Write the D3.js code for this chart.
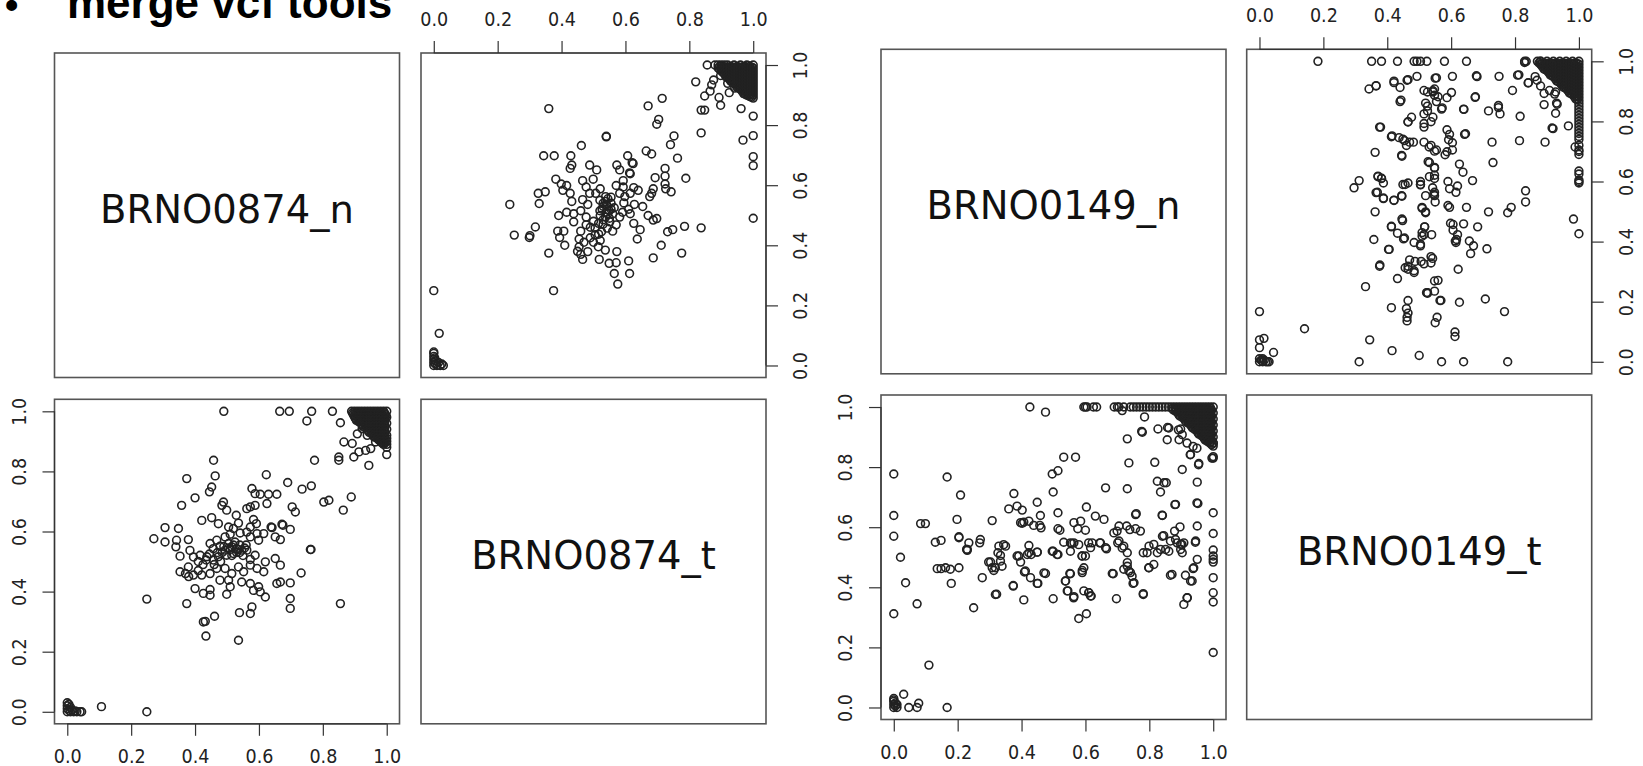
<!DOCTYPE html>
<html>
<head>
<meta charset="utf-8">
<script src="https://cdn.jsdelivr.net/npm/d3@7"></script>
<style>
  body { margin: 0; background: #fff; }
  svg { display: block; }
</style>
</head>
<body>
<div id="chart"></div>
<script>
// values, each point is [n, t]
const titleText = "merge vcf tools";
const tickValues = [0, 0.2, 0.4, 0.6, 0.8, 1.0];
const varSuffix = ["_n", "_t"];

const pts0874 = [
  [0,0],[0,0.01],[0,0.02],[0,0.03],[0.005,0.005],[0.01,0],[0.01,0.015],[0.015,0.005],[0.02,0],[0.025,0.003],
  [0.03,0],[0.04,0],[0.045,0],[0.005,0.025],[0.107,0.017],[0.249,0],
  [0.49,1],[0.665,1],[0.695,1],[0.765,1],[0.83,1],[0.75,0.968],[0.855,0.962],[0.866,0.898],[0.892,0.893],
  [0.913,0.865],[0.934,0.87],[0.95,0.876],[0.897,0.848],[0.85,0.848],[0.85,0.837],[0.944,0.82],[1,0.856],
  [1,0.88],[0.774,0.837],[0.965,0.898],[0.908,0.925],[0.923,0.942],[0.939,0.92],[0.96,0.915],[0.458,0.837],
  [0.374,0.776],[0.463,0.785],[0.452,0.748],[0.445,0.732],[0.40,0.712],[0.358,0.687],[0.489,0.698],[0.484,0.687],
  [0.499,0.671],[0.578,0.743],[0.623,0.789],[0.69,0.763],[0.735,0.741],[0.764,0.752],[0.604,0.724],[0.63,0.724],
  [0.656,0.724],[0.588,0.726],[0.625,0.693],[0.562,0.676],[0.573,0.682],[0.588,0.687],[0.529,0.654],[0.704,0.682],
  [0.714,0.665],[0.803,0.698],[0.819,0.704],[0.889,0.715],[0.864,0.671],
  [0.452,0.646],[0.421,0.637],[0.473,0.626],[0.505,0.615],[0.52,0.61],[0.536,0.628],[0.583,0.64],[0.592,0.626],
  [0.573,0.615],[0.641,0.613],[0.672,0.624],[0.698,0.607],[0.651,0.582],[0.667,0.573],[0.306,0.613],[0.348,0.61],
  [0.271,0.576],[0.306,0.565],[0.342,0.571],[0.379,0.573],[0.34,0.549],[0.353,0.518],[0.384,0.537],[0.395,0.515],
  [0.416,0.521],[0.437,0.516],[0.447,0.56],[0.468,0.571],[0.494,0.582],[0.51,0.591],[0.541,0.595],[0.562,0.598],
  [0.573,0.582],[0.594,0.593],[0.599,0.571],[0.615,0.593],[0.638,0.615],[0.675,0.621],
  [0.457,0.543],[0.478,0.551],[0.494,0.538],[0.515,0.549],[0.531,0.543],[0.546,0.538],[0.52,0.527],[0.499,0.521],
  [0.473,0.516],[0.457,0.505],[0.505,0.56],[0.525,0.565],[0.54,0.555],[0.485,0.53],[0.51,0.54],[0.53,0.53],
  [0.55,0.52],[0.46,0.49],[0.48,0.5],[0.435,0.505],[0.425,0.49],[0.41,0.5],[0.535,0.54],[0.555,0.545],
  [0.562,0.538],[0.588,0.521],[0.573,0.507],[0.62,0.499],[0.651,0.51],[0.667,0.488],[0.761,0.54],[0.763,0.54],
  [0.353,0.466],[0.379,0.482],[0.395,0.455],[0.421,0.455],[0.447,0.46],[0.468,0.477],[0.494,0.477],[0.515,0.46],
  [0.536,0.482],[0.552,0.466],[0.573,0.488],[0.594,0.477],[0.615,0.466],[0.37,0.46],[0.38,0.45],[0.41,0.47],
  [0.4,0.41],[0.426,0.394],[0.447,0.407],[0.447,0.388],[0.499,0.391],[0.51,0.416],[0.478,0.438],[0.505,0.438],
  [0.546,0.432],[0.573,0.427],[0.583,0.404],[0.599,0.416],[0.604,0.399],[0.62,0.382],[0.656,0.427],[0.667,0.432],
  [0.698,0.429],[0.698,0.377],[0.698,0.344],[0.732,0.462],[0.374,0.36],[0.461,0.318],[0.426,0.299],[0.432,0.301],
  [0.434,0.252],[0.539,0.33],[0.573,0.327],[0.578,0.349],[0.536,0.238],[0.855,0.36],[0.249,0.375],
  [0.505,0.545],[0.52,0.555],[0.49,0.55],[0.54,0.53],[0.515,0.52],[0.47,0.53],[0.445,0.525],[0.56,0.555]
];
// dense black corner: [t, list of n]
const corner0874 = [
  [1.00, [0.89,0.90,0.91,0.92,0.93,0.94,0.95,0.96,0.97,0.98,0.99,1.0]],
  [0.995, [0.893,0.903,0.913,0.923,0.933,0.943,0.953,0.963,0.973,0.983,0.993]],
  [0.99, [0.895,0.905,0.915,0.925,0.935,0.945,0.955,0.965,0.975,0.985,0.995]],
  [0.985, [0.898,0.908,0.918,0.928,0.938,0.948,0.958,0.968,0.978,0.988,0.998]],
  [0.98, [0.90,0.91,0.92,0.93,0.94,0.95,0.96,0.97,0.98,0.99,1.0]],
  [0.975, [0.903,0.913,0.923,0.933,0.943,0.953,0.963,0.973,0.983,0.993]],
  [0.97, [0.905,0.915,0.925,0.935,0.945,0.955,0.965,0.975,0.985,0.995]],
  [0.965, [0.913,0.923,0.933,0.943,0.953,0.963,0.973,0.983,0.993]],
  [0.96, [0.92,0.93,0.94,0.95,0.96,0.97,0.98,0.99,1.0]],
  [0.955, [0.923,0.933,0.943,0.953,0.963,0.973,0.983,0.993]],
  [0.95, [0.925,0.935,0.945,0.955,0.965,0.975,0.985,0.995]],
  [0.945, [0.933,0.943,0.953,0.963,0.973,0.983,0.993]],
  [0.94, [0.94,0.95,0.96,0.97,0.98,0.99,1.0]],
  [0.935, [0.943,0.953,0.963,0.973,0.983,0.993]],
  [0.93, [0.945,0.955,0.965,0.975,0.985,0.995]],
  [0.925, [0.953,0.963,0.973,0.983,0.993]],
  [0.92, [0.96,0.97,0.98,0.99,1.0]],
  [0.915, [0.963,0.973,0.983,0.993]],
  [0.91, [0.97,0.98,0.99,1.0]],
  [0.905, [0.975,0.985,0.995]],
  [0.90, [0.98,0.99,1.0]],
  [0.895, [0.985,0.995]],
  [0.89, [0.99,1.0]]
];

const pts0149 = [
  [0,0],[0,0.01],[0,0.02],[0,0.03],[0.005,0.005],[0.01,0],[0.005,0.015],[0,0.025],[0.01,0.01],[0.031,0.044],
  [0.047,0],[0.073,0],[0.078,0.014],[0.167,0],[0.11,0.141],
  [0,0.777],[0,0.639],[0,0.57],[0,0.312],
  [0.021,0.50],[0.037,0.415],[0.073,0.345],[0.084,0.612],[0.099,0.612],[0.13,0.55],[0.148,0.556],[0.136,0.462],
  [0.148,0.462],[0.162,0.465],[0.177,0.46],[0.167,0.767],[0.18,0.413],[0.198,0.626],[0.204,0.565],[0.204,0.465],
  [0.209,0.707],[0.228,0.526],[0.23,0.523],[0.235,0.548],[0.25,0.332],[0.269,0.548],[0.271,0.559],[0.277,0.432],
  [0.297,0.484],[0.308,0.465],[0.313,0.456],[0.308,0.622],[0.322,0.377],[0.326,0.515],[0.334,0.506],[0.339,0.47],
  [0.35,0.537],[0.334,0.487],[0.344,0.542],[0.36,0.661],[0.374,0.404],[0.376,0.712],[0.386,0.67],[0.402,0.657],
  [0.391,0.504],[0.397,0.484],[0.397,0.615],[0.402,0.613],[0.407,0.617],[0.423,0.62],[0.409,0.451],[0.407,0.358],
  [0.423,0.539],[0.423,0.515],[0.43,0.509],[0.428,0.432],[0.438,0.606],[0.457,0.606],[0.461,0.598],[0.449,0.683],
  [0.449,0.517],[0.451,0.413],[0.459,0.639],[0.475,0.446],[0.499,0.362],[0.499,0.717],[0.496,0.777],[0.514,0.788],
  [0.499,0.52],[0.514,0.509],[0.514,0.648],[0.514,0.595],[0.52,0.59],[0.532,0.833],[0.569,0.833],[0.532,0.55],
  [0.553,0.548],[0.564,0.548],[0.538,0.421],[0.545,0.388],[0.553,0.52],[0.553,0.445],[0.564,0.369],[0.564,0.615],
  [0.576,0.595],[0.585,0.62],[0.579,0.296],[0.579,0.542],[0.59,0.504],[0.6,0.504],[0.59,0.449],[0.595,0.465],
  [0.595,0.388],[0.611,0.382],[0.616,0.371],[0.603,0.312],[0.6,0.59],[0.603,0.667],[0.616,0.532],[0.621,0.548],
  [0.631,0.637],[0.645,0.548],[0.663,0.532],[0.663,0.731],[0.658,0.626],[0.689,0.581],[0.699,0.587],[0.705,0.604],
  [0.687,0.445],[0.697,0.362],[0.705,0.554],[0.72,0.537],[0.731,0.515],[0.72,0.46],[0.731,0.47],[0.741,0.449],
  [0.749,0.413],[0.746,0.437],[0.731,0.894],[0.736,0.814],[0.731,0.728],[0.729,0.604],[0.739,0.592],[0.757,0.642],
  [0.757,0.595],[0.772,0.587],[0.778,0.916],[0.785,0.967],[0.781,0.379],[0.781,0.515],[0.799,0.465],[0.814,0.476],
  [0.799,0.537],[0.814,0.543],[0.825,0.515],[0.835,0.526],[0.817,0.816],[0.827,0.927],[0.825,0.753],[0.846,0.748],
  [0.835,0.717],[0.841,0.639],[0.841,0.57],[0.851,0.526],[0.861,0.52],[0.856,0.891],[0.861,0.93],[0.866,0.44],
  [0.879,0.587],[0.882,0.559],[0.898,0.543],[0.908,0.548],[0.882,0.676],[0.893,0.891],[0.898,0.927],[0.903,0.908],
  [0.903,0.792],[0.896,0.601],[0.898,0.526],[0.903,0.515],[0.908,0.343],[0.919,0.365],[0.913,0.44],[0.929,0.842],
  [0.937,0.869],[0.934,0.421],[0.937,0.462],[0.945,0.554],[0.95,0.604],[0.95,0.75],[0.952,0.679],[0.955,0.812],
  [0.95,0.493],[0.776,0.919],[0.857,0.932],[0.891,0.924],[0.918,0.88],[0.928,0.841],[0.949,0.863],[0.954,0.808],
  [0.986,0.902],[0.996,0.83],[0.853,0.748],[0.759,0.645],[0.84,0.64],[0.88,0.675],[0.949,0.681],
  [0.204,0.568],[0.23,0.526],[0.329,0.537],[0.303,0.484],[0.318,0.465],[0.386,0.504],[0.418,0.509],[0.449,0.517],
  [0.412,0.454],[0.449,0.413],[0.47,0.448],[0.374,0.406],[0.318,0.376],[0.496,0.52],[0.511,0.509],[0.558,0.546],
  [0.589,0.504],[0.61,0.548],[0.647,0.548],[0.666,0.528],[0.551,0.446],[0.537,0.421],[0.543,0.388],[0.563,0.365],
  [0.61,0.382],[0.618,0.371],[0.59,0.456],[0.684,0.446],[0.731,0.482],[0.736,0.454],[0.752,0.415],[0.781,0.376],
  [0.715,0.531],[0.701,0.548],[0.793,0.515],[0.798,0.465],[0.845,0.572],[0.866,0.554],[0.871,0.443],[0.887,0.548],
  [0.902,0.543],[0.918,0.365],[0.929,0.421],[0.939,0.465],[0.944,0.55],
  [1,0.183],[1,0.351],[1,0.382],[1,0.432],[1,0.484],[1,0.493],[1,0.504],[1,0.524],[1,0.579],[1,0.648],
  [1,0.83],[1,0.835],[1,0.88],
  [0.426,1],[0.475,0.983],[0.595,1],[0.6,1],[0.605,1],[0.625,1],[0.635,1],[0.69,1],[0.70,1],[0.705,1],
  [0.715,0.988],[0.72,1],[0.74,1],[0.75,1],[0.76,1],[0.77,1],[0.78,1],[0.79,1],[0.80,1],[0.81,1],
  [0.82,1],[0.83,1],[0.84,1],[0.85,1],[0.86,1]
];
const corner0149 = [
  [1.00, [0.87,0.88,0.89,0.90,0.91,0.92,0.93,0.94,0.95,0.96,0.97,0.98,0.99,1.0]],
  [0.995, [0.872,0.882,0.892,0.902,0.912,0.922,0.932,0.942,0.952,0.962,0.972,0.982,0.992]],
  [0.99, [0.875,0.885,0.895,0.905,0.915,0.925,0.935,0.945,0.955,0.965,0.975,0.985,0.995]],
  [0.985, [0.883,0.893,0.903,0.913,0.923,0.933,0.943,0.953,0.963,0.973,0.983,0.993]],
  [0.98, [0.89,0.90,0.91,0.92,0.93,0.94,0.95,0.96,0.97,0.98,0.99,1.0]],
  [0.975, [0.892,0.902,0.912,0.922,0.932,0.942,0.952,0.962,0.972,0.982,0.992]],
  [0.97, [0.895,0.905,0.915,0.925,0.935,0.945,0.955,0.965,0.975,0.985,0.995]],
  [0.965, [0.903,0.913,0.923,0.933,0.943,0.953,0.963,0.973,0.983,0.993]],
  [0.96, [0.91,0.92,0.93,0.94,0.95,0.96,0.97,0.98,0.99,1.0]],
  [0.955, [0.912,0.922,0.932,0.942,0.952,0.962,0.972,0.982,0.992]],
  [0.95, [0.915,0.925,0.935,0.945,0.955,0.965,0.975,0.985,0.995]],
  [0.945, [0.923,0.933,0.943,0.953,0.963,0.973,0.983,0.993]],
  [0.94, [0.93,0.94,0.95,0.96,0.97,0.98,0.99,1.0]],
  [0.935, [0.932,0.942,0.952,0.962,0.972,0.982,0.992]],
  [0.93, [0.935,0.945,0.955,0.965,0.975,0.985,0.995]],
  [0.925, [0.943,0.953,0.963,0.973,0.983,0.993]],
  [0.92, [0.95,0.96,0.97,0.98,0.99,1.0]],
  [0.915, [0.952,0.962,0.972,0.982,0.992]],
  [0.91, [0.955,0.965,0.975,0.985,0.995]],
  [0.905, [0.963,0.973,0.983,0.993]],
  [0.90, [0.97,0.98,0.99,1.0]],
  [0.895, [0.972,0.982,0.992]],
  [0.89, [0.975,0.985,0.995]],
  [0.885, [0.983,0.993]],
  [0.88, [0.99,1.0]],
  [0.875, [0.995]],
  [0.87, [1.0]]
];

const width = 1643, height = 766;
const svg = d3.select("#chart").append("svg")
  .attr("width", width).attr("height", height)
  .style("background", "#fff");

// title bullet line, cut off at the top like the slide
svg.append("text").text("\u2022")
  .attr("x", 5).attr("y", 18)
  .attr("font-family", "Liberation Sans, Arial, sans-serif")
  .attr("font-size", 38).attr("font-weight", "bold").attr("fill", "#000");
svg.append("text").text(titleText)
  .attr("x", 67).attr("y", 18)
  .attr("font-family", "Liberation Sans, Arial, sans-serif")
  .attr("font-size", 44).attr("font-weight", "bold").attr("fill", "#000");

function withCorner(pts, corner){
  let out = pts.slice();
  corner.forEach(function(row){
    row[1].forEach(function(n){ out.push([n, row[0]]); });
  });
  return out;
}

const tickFont = "DejaVu Sans Condensed, DejaVu Sans, sans-serif";

function pairs(name, data, lay){
  let g = svg.append("g");
  let xs = lay.x0.map(function(x){ return d3.scaleLinear().domain([-0.04, 1.04]).range([x, x + lay.w]); });
  let ys = lay.y0.map(function(y){ return d3.scaleLinear().domain([-0.04, 1.04]).range([y + lay.h, y]); });

  for(let r = 0; r < 2; r++){
    for(let c = 0; c < 2; c++){
      g.append("rect")
        .attr("x", lay.x0[c]).attr("y", lay.y0[r])
        .attr("width", lay.w).attr("height", lay.h)
        .attr("fill", "none").attr("stroke", "#555").attr("stroke-width", 1.6);
    }
  }

  // names on the diagonal
  [0, 1].forEach(function(i){
    g.append("text").text(name + varSuffix[i])
      .attr("x", lay.x0[i] + lay.w / 2)
      .attr("y", lay.y0[i] + lay.h / 2 + 7.5)
      .attr("text-anchor", "middle")
      .attr("font-family", "DejaVu Sans, sans-serif")
      .attr("font-size", 38.5).attr("fill", "#111");
  });

  // upper panel: x = t, y = n ; lower panel: x = n, y = t
  g.append("g").selectAll("circle").data(data).join("circle")
    .attr("cx", function(d){ return xs[1](d[1]); })
    .attr("cy", function(d){ return ys[0](d[0]); })
    .attr("r", 3.9).attr("fill", "none").attr("stroke", "#222").attr("stroke-width", 1.6);
  g.append("g").selectAll("circle").data(data).join("circle")
    .attr("cx", function(d){ return xs[0](d[0]); })
    .attr("cy", function(d){ return ys[1](d[1]); })
    .attr("r", 3.9).attr("fill", "none").attr("stroke", "#222").attr("stroke-width", 1.6);

  let fmt = d3.format(".1f");
  let axes = [
    {ax: d3.axisTop(xs[1]), tr: "translate(0," + lay.y0[0] + ")", side: "top", sc: xs[1]},
    {ax: d3.axisRight(ys[0]), tr: "translate(" + (lay.x0[1] + lay.w) + ",0)", side: "right", sc: ys[0]},
    {ax: d3.axisLeft(ys[1]), tr: "translate(" + lay.x0[0] + ",0)", side: "left", sc: ys[1]},
    {ax: d3.axisBottom(xs[0]), tr: "translate(0," + (lay.y0[1] + lay.h) + ")", side: "bottom", sc: xs[0]}
  ];
  axes.forEach(function(a){
    let ag = g.append("g").attr("transform", a.tr)
      .call(a.ax.tickValues(tickValues).tickSize(12).tickFormat(fmt));
    ag.select(".domain").remove();
    let vertical = (a.side == "left" || a.side == "right");
    let p0 = a.sc(0), p1 = a.sc(1);
    ag.append("line")
      .attr("x1", vertical ? 0 : p0).attr("x2", vertical ? 0 : p1)
      .attr("y1", vertical ? p0 : 0).attr("y2", vertical ? p1 : 0)
      .attr("stroke", "#333").attr("stroke-width", 1.2);
    ag.selectAll(".tick line").attr("stroke", "#333").attr("stroke-width", 1.2);
    let txt = ag.selectAll(".tick text")
      .attr("fill", "#222").attr("font-family", tickFont).attr("font-size", 19.5)
      .attr("text-anchor", "middle").attr("dy", null);
    if(a.side == "top") txt.attr("x", 0).attr("y", -27);
    if(a.side == "bottom") txt.attr("x", 0).attr("y", 39);
    if(a.side == "left") txt.attr("transform", "rotate(-90)").attr("x", 0).attr("y", -29);
    if(a.side == "right") txt.attr("transform", "rotate(-90)").attr("x", 0).attr("y", 41);
    ag.attr("font-size", null).attr("font-family", null);
  });
}

pairs("BRNO0874", withCorner(pts0874, corner0874), {x0: [54.5, 421], y0: [53, 399.3], w: 345, h: 324.5});
pairs("BRNO0149", withCorner(pts0149, corner0149), {x0: [881, 1246.7], y0: [49.3, 395], w: 345, h: 324.5});
</script>
</body>
</html>
